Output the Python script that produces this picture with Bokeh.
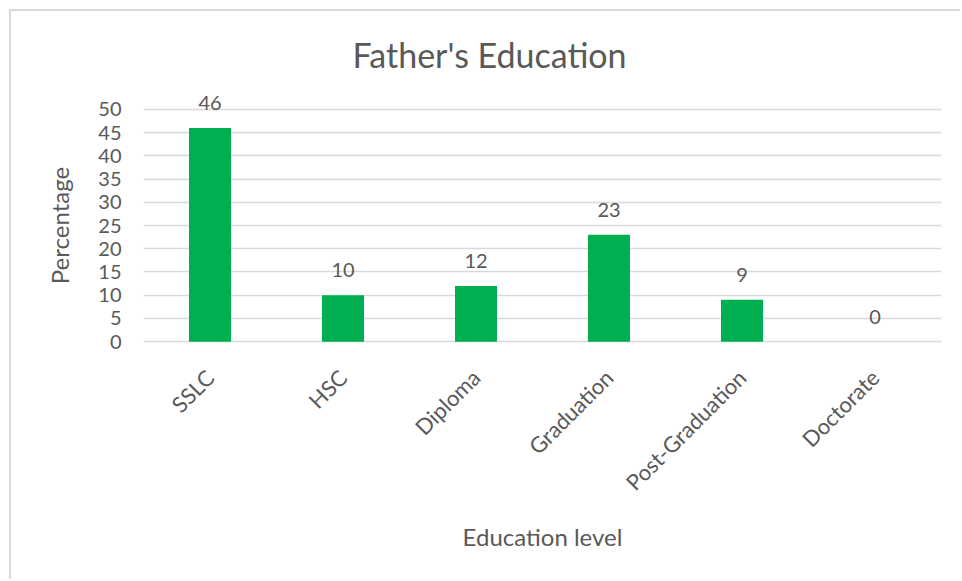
import math
from bokeh.plotting import figure
from bokeh.models import ColumnDataSource, FactorRange, Range1d, FixedTicker, LabelSet, Title
from bokeh.core.properties import value
from bokeh.embed import file_html
from bokeh.resources import INLINE

categories = ["SSLC", "HSC", "Diploma", "Graduation", "Post-Graduation", "Doctorate"]
percentages = [46, 10, 12, 23, 9, 0]
y_ticks = [0, 5, 10, 15, 20, 25, 30, 35, 40, 45, 50]
title_text = "Father's Education"
x_title = "Education level"
y_title = "Percentage"

TEXT = "#595959"
GRID = "#D9D9D9"
BAR = "#00B050"
FONT = "Lato"

src = ColumnDataSource(dict(cat=categories, val=percentages,
                            lbl=[str(v) for v in percentages]))

p = figure(width=951, height=570,
           x_range=FactorRange(*categories, range_padding=0),
           y_range=Range1d(-3.2, 53.2),
           output_backend="svg", toolbar_location=None,
           min_border_left=132, min_border_right=21,
           min_border_top=82, min_border_bottom=225,
           margin=(9, 0, 0, 9),
           styles={"border-left": "2px solid #D9D9D9", "border-top": "2px solid #D9D9D9"})

p.title = None
t = Title(text=title_text, align="left", offset=209, standoff=40,
          text_font=FONT, text_font_size="34px", text_font_style="normal",
          text_color=TEXT)
p.add_layout(t, "above")

p.vbar(x="cat", top="val", width=0.316, source=src, fill_color=BAR, line_color=None)

labels = LabelSet(x="cat", y="val", text="lbl", source=src, y_offset=18,
                  text_align="center", text_baseline="alphabetic",
                  text_font=value(FONT), text_font_size="20px", text_color=TEXT)
p.add_layout(labels)

p.outline_line_color = None
p.background_fill_color = "white"
p.border_fill_color = "white"

p.xgrid.grid_line_color = None
p.ygrid.grid_line_color = GRID
p.ygrid.grid_line_width = 1.5

p.yaxis.ticker = FixedTicker(ticks=y_ticks)
p.yaxis.axis_line_color = None
p.yaxis.major_tick_line_color = None
p.yaxis.minor_tick_line_color = None
p.yaxis.major_label_standoff = 16
p.yaxis.major_label_text_font = FONT
p.yaxis.major_label_text_font_size = "20px"
p.yaxis.major_label_text_color = TEXT
p.yaxis.axis_label = y_title
p.yaxis.axis_label_text_font = FONT
p.yaxis.axis_label_text_font_size = "24px"
p.yaxis.axis_label_text_font_style = "normal"
p.yaxis.axis_label_text_color = TEXT
p.yaxis.axis_label_standoff = 21

p.xaxis.axis_line_color = None
p.xaxis.major_tick_line_color = None
p.xaxis.minor_tick_line_color = None
p.xaxis.major_label_orientation = math.pi / 4
p.xaxis.major_label_standoff = 11
p.xaxis.major_label_text_font = FONT
p.xaxis.major_label_text_font_size = "22px"
p.xaxis.major_label_text_color = TEXT
p.xaxis.axis_label = x_title
p.xaxis.axis_label_text_font = FONT
p.xaxis.axis_label_text_font_size = "24px"
p.xaxis.axis_label_text_font_style = "normal"
p.xaxis.axis_label_text_color = TEXT
p.xaxis.axis_label_standoff = 14

open("out.html", "w").write(file_html(p, INLINE))
